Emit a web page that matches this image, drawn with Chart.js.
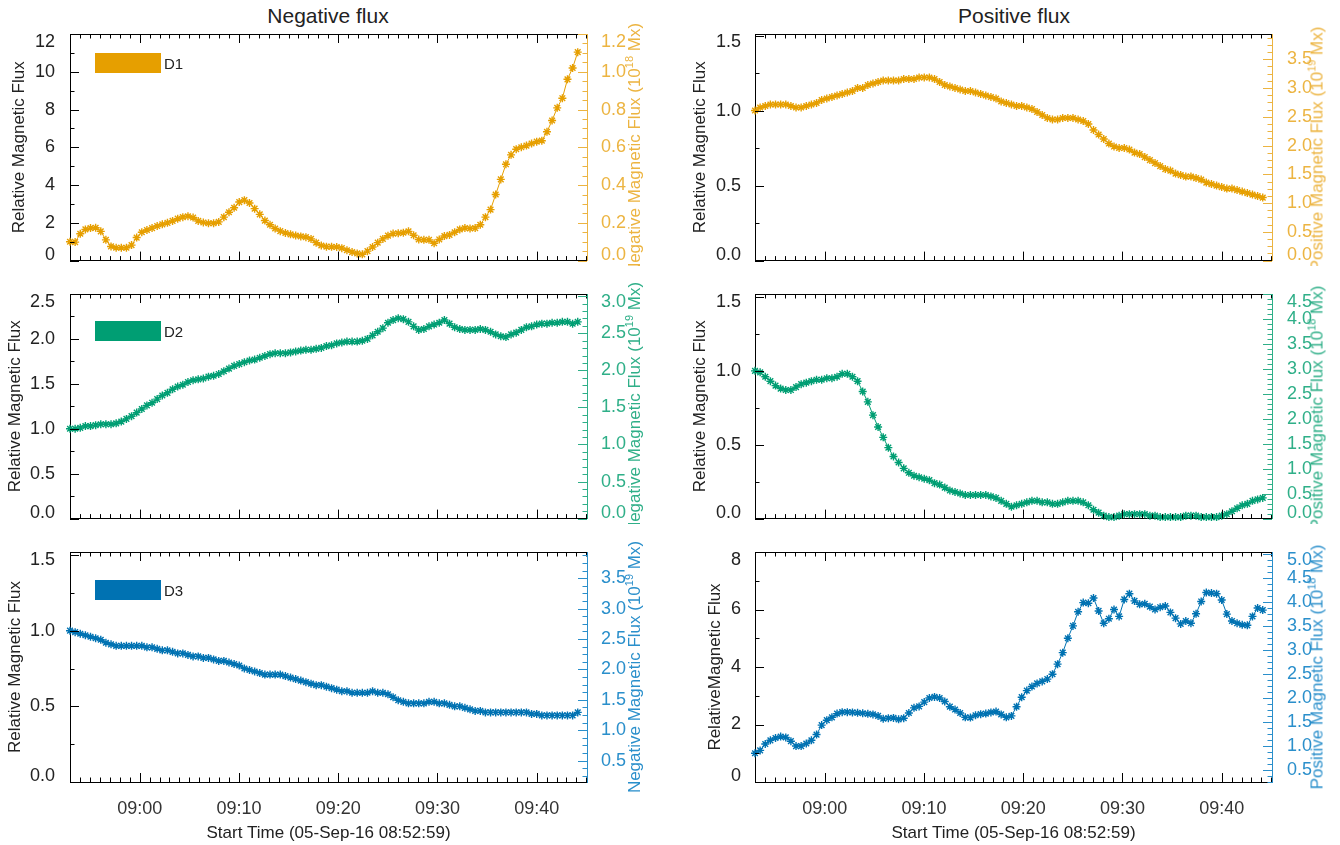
<!DOCTYPE html>
<html>
<head>
<meta charset="utf-8">
<script src="https://cdn.jsdelivr.net/npm/chart.js@4.4.1/dist/chart.umd.min.js"></script>
<style>
html,body{margin:0;padding:0;background:#fff;}
body{width:1340px;height:845px;position:relative;overflow:hidden;font-family:'Liberation Sans',Arial,sans-serif;}
.panel{position:absolute;overflow:hidden;}
.panel canvas{position:absolute;left:0;top:0;}
.rtitle{position:absolute;white-space:nowrap;font-size:17px;line-height:20px;transform:translate(-50%,-50%) rotate(-90deg);}
.rtitle sup{font-size:11px;vertical-align:0;position:relative;top:-0.6em;}
.ptitle{position:absolute;top:4px;font-size:21px;line-height:24px;color:#222;transform:translateX(-50%);white-space:nowrap;}
.legend{position:absolute;display:flex;align-items:center;font-size:15px;color:#222;}
.legend .box{width:66px;height:20px;margin-right:3px;}
</style>
</head>
<body>
<div class="ptitle" style="left:328px">Negative flux</div>
<div class="ptitle" style="left:1014px">Positive flux</div>
<script>
// ---------- time axis (seconds after start) ----------
const START_CLOCK = '08:52:59';
const AXIS_END_CLOCK = '09:45:04';
const X_TICK_LABELS = ['09:00','09:10','09:20','09:30','09:40'];
const X_TITLE = 'Start Time (05-Sep-16 08:52:59)';
const TIME_S = [0,31,62,93,124,155,186,217,248,279,310,341,372,403,434,465,496,527,558,589,620,651,682,713,744,775,806,837,868,899,930,961,992,1023,1054,1085,1116,1147,1178,1209,1240,1271,1302,1333,1364,1395,1426,1457,1488,1519,1550,1581,1612,1643,1674,1705,1736,1767,1798,1829,1860,1891,1922,1953,1984,2015,2046,2077,2108,2139,2170,2201,2232,2263,2294,2325,2356,2387,2418,2449,2480,2511,2542,2573,2604,2635,2666,2697,2728,2759,2790,2821,2852,2883,2914,2945,2976,3007,3038,3069];

// ---------- series (relative magnetic flux) ----------
const D1_NEG = [1.00,0.98,1.42,1.65,1.72,1.74,1.55,1.10,0.75,0.68,
 0.68,0.68,0.82,1.22,1.50,1.62,1.72,1.83,1.92,2.00,
 2.10,2.22,2.30,2.35,2.28,2.10,2.02,1.98,1.98,2.05,
 2.30,2.56,2.80,3.10,3.20,3.05,2.75,2.45,2.12,1.90,
 1.70,1.56,1.46,1.39,1.33,1.28,1.24,1.15,0.95,0.80,
 0.74,0.73,0.72,0.66,0.55,0.45,0.38,0.33,0.50,0.72,
 0.95,1.15,1.32,1.43,1.45,1.48,1.55,1.34,1.12,1.10,
 1.10,0.92,1.12,1.30,1.36,1.50,1.65,1.72,1.70,1.72,
 1.90,2.30,2.70,3.50,4.30,5.10,5.60,5.90,6.00,6.09,
 6.20,6.30,6.35,6.82,7.42,8.09,8.60,9.60,10.20,11.04];
const D1_POS = [1.00,1.02,1.03,1.04,1.04,1.04,1.04,1.03,1.02,1.02,
 1.03,1.04,1.05,1.07,1.08,1.09,1.10,1.11,1.12,1.13,
 1.15,1.15,1.17,1.18,1.19,1.20,1.20,1.20,1.20,1.21,
 1.21,1.21,1.22,1.22,1.22,1.21,1.19,1.17,1.16,1.15,
 1.14,1.13,1.13,1.12,1.11,1.10,1.09,1.08,1.06,1.05,
 1.04,1.03,1.03,1.02,1.01,0.99,0.97,0.95,0.94,0.94,
 0.95,0.95,0.95,0.94,0.93,0.91,0.87,0.84,0.81,0.78,
 0.76,0.75,0.75,0.74,0.72,0.71,0.69,0.67,0.65,0.63,
 0.61,0.60,0.58,0.57,0.56,0.56,0.55,0.54,0.52,0.51,
 0.50,0.49,0.48,0.48,0.47,0.46,0.45,0.44,0.43,0.42];
const D2_NEG = [1.00,1.00,1.01,1.03,1.03,1.04,1.05,1.05,1.05,1.06,
 1.08,1.11,1.14,1.18,1.22,1.26,1.29,1.33,1.37,1.40,
 1.44,1.47,1.49,1.52,1.54,1.55,1.56,1.58,1.59,1.61,
 1.64,1.67,1.70,1.72,1.74,1.76,1.77,1.79,1.81,1.83,
 1.84,1.84,1.84,1.85,1.86,1.87,1.88,1.88,1.89,1.90,
 1.92,1.93,1.95,1.96,1.97,1.97,1.97,1.98,2.00,2.04,
 2.08,2.12,2.18,2.21,2.23,2.22,2.19,2.14,2.10,2.11,
 2.14,2.16,2.18,2.21,2.17,2.13,2.11,2.10,2.10,2.10,
 2.11,2.10,2.08,2.05,2.03,2.02,2.05,2.07,2.10,2.13,
 2.14,2.16,2.17,2.17,2.18,2.18,2.19,2.19,2.17,2.19];
const D2_POS = [1.00,0.99,0.96,0.93,0.90,0.88,0.87,0.87,0.89,0.91,
 0.92,0.93,0.94,0.94,0.95,0.95,0.96,0.98,0.98,0.96,
 0.93,0.86,0.79,0.70,0.62,0.55,0.48,0.42,0.38,0.34,
 0.31,0.29,0.28,0.27,0.26,0.24,0.23,0.21,0.19,0.18,
 0.17,0.16,0.16,0.16,0.16,0.16,0.15,0.14,0.12,0.10,
 0.08,0.09,0.10,0.11,0.12,0.12,0.11,0.11,0.10,0.10,
 0.11,0.12,0.12,0.12,0.11,0.09,0.06,0.04,0.02,0.01,
 0.01,0.02,0.03,0.03,0.03,0.03,0.03,0.02,0.02,0.01,
 0.01,0.01,0.01,0.01,0.02,0.02,0.02,0.01,0.01,0.01,
 0.01,0.02,0.03,0.05,0.07,0.09,0.10,0.12,0.13,0.14];
const D3_NEG = [1.00,0.99,0.98,0.97,0.96,0.95,0.94,0.92,0.91,0.90,
 0.90,0.90,0.90,0.90,0.90,0.89,0.89,0.88,0.87,0.87,
 0.86,0.85,0.85,0.84,0.83,0.83,0.82,0.82,0.81,0.80,
 0.80,0.79,0.78,0.77,0.75,0.74,0.73,0.72,0.71,0.71,
 0.71,0.71,0.70,0.69,0.68,0.67,0.66,0.65,0.64,0.64,
 0.63,0.62,0.61,0.60,0.60,0.59,0.59,0.59,0.59,0.60,
 0.59,0.59,0.58,0.56,0.54,0.53,0.52,0.52,0.52,0.52,
 0.53,0.53,0.52,0.52,0.51,0.50,0.50,0.49,0.48,0.47,
 0.47,0.46,0.46,0.46,0.46,0.46,0.46,0.46,0.46,0.46,
 0.45,0.45,0.44,0.44,0.44,0.44,0.44,0.44,0.44,0.46];
const D3_POS = [1.00,1.10,1.32,1.45,1.53,1.58,1.55,1.42,1.25,1.25,
 1.34,1.45,1.65,1.98,2.15,2.25,2.38,2.43,2.43,2.42,
 2.41,2.39,2.37,2.35,2.30,2.20,2.22,2.23,2.18,2.22,
 2.40,2.58,2.63,2.78,2.92,2.96,2.92,2.80,2.62,2.52,
 2.40,2.25,2.24,2.32,2.36,2.38,2.42,2.45,2.35,2.25,
 2.30,2.62,2.95,3.18,3.32,3.43,3.50,3.58,3.75,4.10,
 4.50,5.00,5.43,5.92,6.24,6.22,6.40,5.95,5.52,5.68,
 6.00,5.76,6.35,6.55,6.30,6.18,6.20,6.10,6.00,6.08,
 6.12,5.90,5.70,5.50,5.60,5.52,5.85,6.28,6.59,6.57,
 6.55,6.33,5.84,5.60,5.52,5.47,5.45,5.76,6.05,5.98];

// ---------- tick values ----------
const A_LEFT_TICKS = [0,2,4,6,8,10,12];
const A_RIGHT_TICKS = [0,0.2,0.4,0.6,0.8,1.0,1.2];
const B_LEFT_TICKS = [0,0.5,1.0,1.5];
const B_RIGHT_TICKS = [0,0.5,1.0,1.5,2.0,2.5,3.0,3.5];
const C_LEFT_TICKS = [0,0.5,1.0,1.5,2.0,2.5];
const C_RIGHT_TICKS = [0,0.5,1.0,1.5,2.0,2.5,3.0];
const D_LEFT_TICKS = [0,0.5,1.0,1.5];
const D_RIGHT_TICKS = [0,0.5,1.0,1.5,2.0,2.5,3.0,3.5,4.0,4.5];
const E_LEFT_TICKS = [0,0.5,1.0,1.5];
const E_RIGHT_TICKS = [0.5,1.0,1.5,2.0,2.5,3.0,3.5];
const F_LEFT_TICKS = [0,2,4,6,8];
const F_RIGHT_TICKS = [0.5,1.0,1.5,2.0,2.5,3.0,3.5,4.0,4.5,5.0];

const ORANGE = '#E69F00', ORANGE_L = '#ECB441';
const GREEN = '#009E73', GREEN_L = '#2FAF88';
const BLUE = '#0072B2', BLUE_L = '#2A8FCB';

function clockToMin(s){ const p = s.split(':').map(Number); return p[0]*60 + p[1] + (p[2]||0)/60; }
const T0 = clockToMin(START_CLOCK);
const X_END = clockToMin(AXIS_END_CLOCK) - T0;

const TICK_FONT = 18;
const COLS = [
  {left:0, width:670, yW:70, y2W:83, y2TitleX:635, padL:7, padR:6},
  {left:670, width:670, yW:85, y2W:68, y2TitleX:648, padL:6, padR:7}
];
const ROWS = [
  {top:0, height:266, padTop:34, xH:2, showX:false, legendTop:53},
  {top:266, height:258, padTop:28, xH:2, showX:false, legendTop:321},
  {top:524, height:321, padTop:28, xH:63, showX:true, legendTop:580}
];

const PANELS = [
  {row:0,col:0,values:D1_NEG,color:ORANGE,light:ORANGE_L,legend:'D1',
   lTicks:A_LEFT_TICKS,lMin:0,lMax:12,lDec:0,lMinor:1,lTitle:'Relative Magnetic Flux',lTitlePad:9,
   rTicks:A_RIGHT_TICKS,rMin:0,rMax:1.2,rMinor:0.05,rTitle:'Negative Magnetic Flux (10<sup>18</sup> Mx)'},
  {row:0,col:1,values:D1_POS,color:ORANGE,light:ORANGE_L,
   lTicks:B_LEFT_TICKS,lMin:0,lMax:1.51,lDec:1,lMinor:0.25,lTitle:'Relative Magnetic Flux',lTitlePad:20,
   rTicks:B_RIGHT_TICKS,rMin:0,rMax:3.94,rMinor:0.125,rTitle:'Positive Magnetic Flux (10<sup>19</sup> Mx)'},
  {row:1,col:0,values:D2_NEG,color:GREEN,light:GREEN_L,legend:'D2',
   lTicks:C_LEFT_TICKS,lMin:0,lMax:2.5,lDec:1,lMinor:0.25,lTitle:'Relative Magnetic Flux',lTitlePad:5,
   rTicks:C_RIGHT_TICKS,rMin:0,rMax:3.03,rMinor:0.1,rTitle:'Negative Magnetic Flux (10<sup>19</sup> Mx)'},
  {row:1,col:1,values:D2_POS,color:GREEN,light:GREEN_L,
   lTicks:D_LEFT_TICKS,lMin:0,lMax:1.52,lDec:1,lMinor:0.25,lTitle:'Relative Magnetic Flux',lTitlePad:20,
   rTicks:D_RIGHT_TICKS,rMin:0,rMax:4.51,rMinor:0.1,rTitle:'Positive Magnetic Flux (10<sup>18</sup> Mx)'},
  {row:2,col:0,values:D3_NEG,color:BLUE,light:BLUE_L,legend:'D3',
   lTicks:E_LEFT_TICKS,lMin:0,lMax:1.52,lDec:1,lMinor:0.25,lTitle:'Relative Magnetic Flux',lTitlePad:5,
   rTicks:E_RIGHT_TICKS,rMin:0.15,rMax:3.93,rMinor:0.125,rTitle:'Negative Magnetic Flux (10<sup>19</sup> Mx)'},
  {row:2,col:1,values:D3_POS,color:BLUE,light:BLUE_L,
   lTicks:F_LEFT_TICKS,lMin:0,lMax:8,lDec:0,lMinor:1,lTitle:'RelativeMagnetic Flux',lTitlePad:35,
   rTicks:F_RIGHT_TICKS,rMin:0.25,rMax:5.05,rMinor:0.125,rTitle:'Positive Magnetic Flux (10<sup>18</sup> Mx)'}
];

Chart.defaults.font.family = "'Liberation Sans', Arial, sans-serif";

const idlAxes = {
  id: 'idlAxes',
  beforeDraw(chart) {
    const ca = chart.chartArea;
    ['y','y2'].forEach(id => {
      const s = chart.scales[id];
      if (!s || !s.getLabelItems) return;
      const items = s.getLabelItems();
      items.forEach(it => {
        const tr = it.options && it.options.translation;
        if (!tr) return;
        if (tr[1] < ca.top + 8) tr[1] = ca.top + 8;
        if (tr[1] > ca.bottom - 6) tr[1] = ca.bottom - 6;
      });
    });
  },
  afterDraw(chart, args, o) {
    const {ctx, chartArea: ca} = chart;
    const xs = chart.scales.x, yl = chart.scales.y, yr = chart.scales.y2;
    ctx.save();
    ctx.lineWidth = 1;
    const seg = (x1,y1,x2,y2,c) => { ctx.strokeStyle = c; ctx.beginPath(); ctx.moveTo(x1,y1); ctx.lineTo(x2,y2); ctx.stroke(); };
    const topY = Math.round(ca.top) + 0.5;
    seg(ca.left, topY, ca.right, topY, '#000');
    for (let t = Math.ceil(T0) - T0; t <= xs.max + 1e-6; t += 1) {
      const px = Math.round(xs.getPixelForValue(t)) + 0.5;
      const L = (Math.round(T0 + t) % 10 === 0) ? 9 : 4.5;
      seg(px, ca.bottom, px, ca.bottom - L, '#000');
      seg(px, ca.top, px, ca.top + L, '#000');
    }
    const yTicks = (s, minor, xEdge, dir, color) => {
      const majors = s.ticks.map(t => t.value);
      const n0 = Math.ceil((s.min - 1e-9) / minor), n1 = Math.floor((s.max + 1e-9) / minor);
      for (let n = n0; n <= n1; n++) {
        const v = n * minor;
        const isMaj = majors.some(m => Math.abs(m - v) < 1e-6);
        const py = Math.round(s.getPixelForValue(v)) + 0.5;
        seg(xEdge, py, xEdge + dir * (isMaj ? 9 : 4.5), py, color);
      }
    };
    yTicks(yl, o.lMinor, ca.left, 1, '#000');
    yTicks(yr, o.rMinor, ca.right, -1, o.rColor);
    ctx.restore();
  }
};
Chart.register(idlAxes);

PANELS.forEach(p => {
  const col = COLS[p.col], row = ROWS[p.row];
  const div = document.createElement('div');
  div.className = 'panel';
  div.style.left = col.left + 'px'; div.style.top = row.top + 'px';
  div.style.width = col.width + 'px'; div.style.height = row.height + 'px';
  const cv = document.createElement('canvas');
  cv.width = col.width; cv.height = row.height;
  cv.style.width = col.width + 'px'; cv.style.height = row.height + 'px';
  div.appendChild(cv);
  const rt = document.createElement('div');
  rt.className = 'rtitle';
  rt.innerHTML = p.rTitle;
  rt.style.left = col.y2TitleX + 'px';
  rt.style.top = (row.padTop + (row.height - row.padTop - row.xH) / 2) + 'px';
  rt.style.color = p.light;
  div.appendChild(rt);
  document.body.appendChild(div);

  if (p.legend) {
    const lg = document.createElement('div');
    lg.className = 'legend';
    lg.style.left = '95px'; lg.style.top = row.legendTop + 'px';
    lg.innerHTML = '<div class="box" style="background:' + p.color + '"></div><span>' + p.legend + '</span>';
    document.body.appendChild(lg);
  }

  new Chart(cv, {
    type: 'line',
    data: {
      datasets: [{
        data: TIME_S.map((s, i) => ({x: s / 60, y: p.values[i]})),
        borderColor: p.color, backgroundColor: p.color,
        pointBorderColor: p.color, pointBackgroundColor: p.color,
        borderWidth: 1, pointStyle: 'star', pointRadius: 4, pointBorderWidth: 1.4,
        pointHoverRadius: 4, tension: 0, clip: false, yAxisID: 'y'
      }]
    },
    options: {
      responsive: false, animation: false, devicePixelRatio: 1, events: [],
      layout: {padding: {top: row.padTop, left: 0, right: 0, bottom: 0}},
      plugins: {legend: {display: false}, tooltip: {enabled: false},
        idlAxes: {lMinor: p.lMinor, rMinor: p.rMinor, rColor: p.light}},
      scales: {
        x: {
          type: 'linear', position: 'bottom', min: 0, max: X_END,
          grid: {display: false},
          border: {display: true, color: '#000', width: 1},
          ticks: {display: row.showX, autoSkip: false, maxRotation: 0, padding: 8, color: '#333',
            font: {size: TICK_FONT}, callback: (v, i) => X_TICK_LABELS[i]},
          afterBuildTicks: s => { s.ticks = X_TICK_LABELS.map(l => ({value: clockToMin(l) - T0})); },
          afterFit: s => { s.height = row.xH; s.paddingLeft = 0; s.paddingRight = 0; },
          title: {display: row.showX, text: X_TITLE, color: '#222', font: {size: 17}, padding: {top: 0, bottom: 1}}
        },
        y: {
          type: 'linear', position: 'left', min: p.lMin, max: p.lMax,
          grid: {display: false},
          border: {display: true, color: '#000', width: 1},
          ticks: {autoSkip: false, padding: col.padL, color: '#222', font: {size: TICK_FONT},
            callback: v => Number(v).toFixed(p.lDec)},
          afterBuildTicks: s => { s.ticks = p.lTicks.map(v => ({value: v})); },
          afterFit: s => { s.width = col.yW; s.paddingTop = 0; s.paddingBottom = 0; },
          title: {display: true, text: p.lTitle, color: '#222', font: {size: 17}, padding: {top: p.lTitlePad, bottom: 0}}
        },
        y2: {
          type: 'linear', position: 'right', min: p.rMin, max: p.rMax,
          grid: {display: false},
          border: {display: true, color: p.light, width: 1},
          ticks: {autoSkip: false, padding: col.padR, color: p.light, font: {size: TICK_FONT},
            callback: v => Number(v).toFixed(1)},
          afterBuildTicks: s => { s.ticks = p.rTicks.map(v => ({value: v})); },
          afterFit: s => { s.width = col.y2W; s.paddingTop = 0; s.paddingBottom = 0; },
          title: {display: false}
        }
      }
    }
  });
});
</script>
</body>
</html>
